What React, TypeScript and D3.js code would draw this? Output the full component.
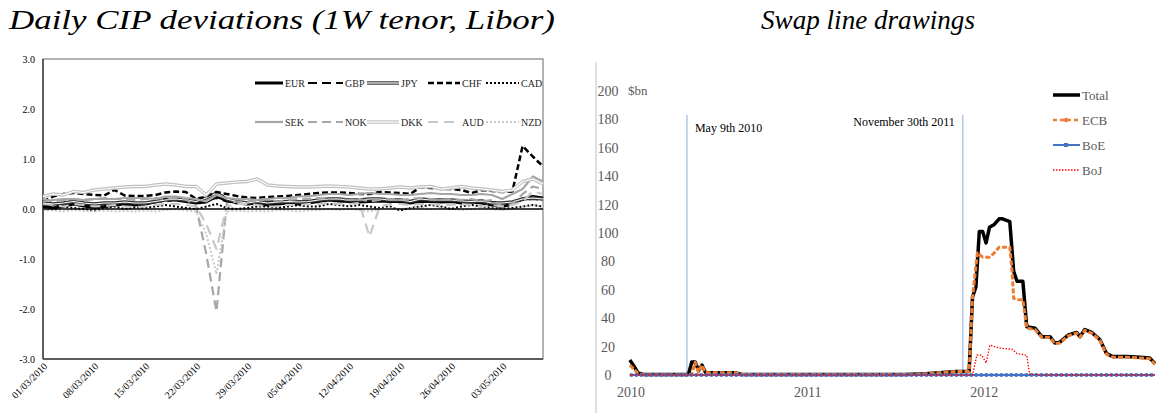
import * as d3 from 'd3';

// ---------- left panel: daily CIP deviations ----------
const cipDays = [
  '01/03/2010', '02/03/2010', '03/03/2010', '04/03/2010', '05/03/2010',
  '08/03/2010', '09/03/2010', '10/03/2010', '11/03/2010', '12/03/2010',
  '15/03/2010', '16/03/2010', '17/03/2010', '18/03/2010', '19/03/2010',
  '22/03/2010', '23/03/2010', '24/03/2010', '25/03/2010', '26/03/2010',
  '29/03/2010', '30/03/2010', '31/03/2010', '01/04/2010', '02/04/2010',
  '05/04/2010', '06/04/2010', '07/04/2010', '08/04/2010', '09/04/2010',
  '12/04/2010', '13/04/2010', '14/04/2010', '15/04/2010', '16/04/2010',
  '19/04/2010', '20/04/2010', '21/04/2010', '22/04/2010', '23/04/2010',
  '26/04/2010', '27/04/2010', '28/04/2010', '29/04/2010', '30/04/2010',
  '03/05/2010', '04/05/2010', '05/05/2010', '06/05/2010', '07/05/2010',
];
const cipTickLabels = [
  '01/03/2010', '08/03/2010', '15/03/2010', '22/03/2010', '29/03/2010',
  '05/04/2010', '12/04/2010', '19/04/2010', '26/04/2010', '03/05/2010',
];
const cipTicks = [3, 2, 1, 0, -1, -2, -3];

const eur = [0.05, 0.02, 0.06, 0.1, 0.06, 0.03, 0.05, 0.08, 0.1, 0.08, 0.1, 0.14, 0.2, 0.18, 0.15, 0.12, 0.14, 0.25, 0.18, 0.12, 0.1, 0.12, 0.08, 0.1, 0.12, 0.1, 0.12, 0.15, 0.18, 0.16, 0.15, 0.14, 0.15, 0.16, 0.15, 0.15, 0.12, 0.15, 0.15, 0.14, 0.15, 0.12, 0.14, 0.12, 0.08, 0.05, 0.1, 0.2, 0.25, 0.22];
const gbp = [0.1, 0.05, 0.12, 0.15, 0.1, 0.08, 0.1, 0.12, 0.1, 0.12, 0.12, 0.15, 0.15, 0.18, 0.16, 0.15, 0.18, 0.22, 0.15, 0.12, 0.12, 0.14, 0.15, 0.15, 0.16, 0.15, 0.15, 0.18, 0.2, 0.18, 0.18, 0.16, 0.18, 0.2, 0.18, 0.18, 0.15, 0.18, 0.18, 0.16, 0.15, 0.15, 0.14, 0.15, 0.14, 0.12, 0.15, 0.18, 0.2, 0.18];
const jpy = [0.12, 0.1, 0.12, 0.15, 0.12, 0.1, 0.12, 0.12, 0.14, 0.12, 0.12, 0.15, 0.18, 0.2, 0.18, 0.15, 0.22, 0.32, 0.2, 0.15, 0.12, 0.15, 0.12, 0.14, 0.15, 0.14, 0.15, 0.18, 0.2, 0.2, 0.18, 0.18, 0.2, 0.2, 0.18, 0.18, 0.15, 0.2, 0.18, 0.18, 0.18, 0.16, 0.15, 0.16, 0.12, 0.12, 0.14, 0.2, 0.22, 0.2];
const chf = [0.15, 0.25, 0.3, 0.32, 0.3, 0.28, 0.27, 0.38, 0.27, 0.26, 0.26, 0.28, 0.33, 0.35, 0.34, 0.2, 0.25, 0.34, 0.3, 0.26, 0.23, 0.22, 0.24, 0.25, 0.26, 0.28, 0.3, 0.32, 0.33, 0.33, 0.32, 0.3, 0.3, 0.34, 0.33, 0.32, 0.3, 0.44, 0.42, 0.4, 0.4, 0.38, 0.32, 0.38, 0.36, 0.34, 0.35, 1.26, 1.05, 0.85];
const cad = [0.0, -0.02, 0.05, 0.02, 0.0, -0.03, 0.02, 0.05, 0.0, 0.03, 0.02, 0.05, 0.08, 0.05, 0.02, 0.0, 0.05, 0.1, 0.02, 0.0, 0.02, 0.05, 0.05, 0.02, 0.05, 0.08, 0.05, 0.05, 0.1, 0.08, 0.05, 0.08, 0.05, 0.02, 0.05, -0.03, 0.02, 0.05, 0.08, 0.05, 0.0, 0.05, 0.08, 0.05, 0.02, 0.0, 0.02, 0.05, 0.08, 0.05];
const sek = [0.15, 0.18, 0.2, 0.2, 0.18, 0.2, 0.2, 0.2, 0.22, 0.22, 0.22, 0.2, 0.25, 0.25, 0.22, 0.2, 0.15, 0.28, 0.22, 0.2, 0.2, 0.18, 0.2, 0.22, 0.22, 0.25, 0.25, 0.28, 0.3, 0.3, 0.28, 0.3, 0.32, 0.3, 0.3, 0.28, 0.28, 0.3, 0.32, 0.3, 0.3, 0.28, 0.28, 0.3, 0.28, 0.2, 0.3, 0.4, 0.65, 0.55];
const nok = [0.2, 0.15, 0.18, 0.2, 0.18, 0.2, 0.22, 0.2, 0.2, 0.18, 0.2, 0.22, 0.2, 0.22, 0.2, 0.05, -0.9, -2.05, 0.1, 0.15, 0.15, 0.18, 0.2, 0.15, 0.18, 0.2, 0.2, 0.22, 0.2, 0.2, 0.18, 0.2, 0.15, 0.18, 0.2, 0.18, 0.2, 0.22, 0.2, 0.18, 0.2, 0.18, 0.2, 0.15, 0.18, 0.05, 0.1, 0.3, 0.45, 0.4];
const dkk = [0.25, 0.3, 0.28, 0.35, 0.33, 0.38, 0.4, 0.42, 0.44, 0.45, 0.45, 0.48, 0.5, 0.48, 0.45, 0.45, 0.28, 0.5, 0.52, 0.54, 0.55, 0.6, 0.48, 0.46, 0.45, 0.44, 0.44, 0.45, 0.46, 0.45, 0.44, 0.42, 0.4, 0.4, 0.42, 0.44, 0.42, 0.44, 0.45, 0.4, 0.42, 0.45, 0.42, 0.4, 0.38, 0.35, 0.38, 0.55, 0.6, 0.5];
const aud = [0.1, 0.08, 0.05, 0.1, 0.08, 0.05, 0.06, 0.08, 0.05, 0.04, 0.05, 0.08, 0.1, 0.1, 0.08, 0.05, -0.3, -0.8, 0.05, 0.1, 0.1, 0.08, 0.05, 0.05, 0.08, 0.08, 0.1, 0.1, 0.12, 0.1, 0.1, 0.12, -0.55, 0.05, 0.1, 0.1, 0.08, 0.1, 0.1, 0.08, 0.08, 0.1, 0.08, 0.05, 0.08, 0.05, 0.08, 0.15, 0.35, 0.3];
const nzd = [0.0, -0.03, -0.05, -0.02, -0.04, -0.05, -0.03, -0.05, -0.04, -0.05, -0.03, -0.05, -0.02, 0.0, -0.03, -0.05, -0.5, -1.3, -0.05, -0.03, -0.05, -0.04, -0.05, -0.02, -0.03, -0.05, -0.03, -0.02, 0.0, -0.02, 0.0, -0.02, -0.05, 0.0, 0.02, 0.0, 0.02, 0.03, 0.0, 0.02, 0.0, -0.02, 0.0, 0.02, 0.0, -0.02, 0.0, 0.05, 0.08, 0.05];

// ---------- right panel: swap line drawings ($bn) ----------
const totalDrawings: [string, number][] = [
  ['2010-01-11', 10.5], ['2010-01-20', 6], ['2010-01-28', 1.5], ['2010-02-10', 0.3],
  ['2010-05-12', 0.3], ['2010-05-19', 9.2], ['2010-05-26', 9.2], ['2010-06-02', 3],
  ['2010-06-09', 7], ['2010-06-16', 2], ['2010-06-23', 1.5], ['2010-08-18', 1.5],
  ['2010-09-01', 0.3], ['2011-08-03', 0.3], ['2011-09-14', 0.8], ['2011-10-12', 1.5],
  ['2011-11-16', 2.5], ['2011-12-13', 2.5], ['2011-12-20', 55], ['2011-12-27', 62],
  ['2012-01-03', 101], ['2012-01-10', 101], ['2012-01-17', 93], ['2012-01-24', 104],
  ['2012-02-03', 106], ['2012-02-13', 110], ['2012-02-20', 110], ['2012-03-06', 108],
  ['2012-03-14', 73], ['2012-03-21', 66], ['2012-04-02', 66], ['2012-04-10', 34],
  ['2012-04-27', 33], ['2012-05-11', 27], ['2012-05-28', 27], ['2012-06-07', 22.5],
  ['2012-06-17', 23], ['2012-07-04', 28], ['2012-07-22', 30], ['2012-07-29', 27],
  ['2012-08-08', 32], ['2012-08-22', 30], ['2012-09-08', 25], ['2012-09-22', 15],
  ['2012-10-05', 13], ['2012-11-03', 13], ['2012-11-30', 12.5], ['2012-12-20', 12],
  ['2012-12-31', 8],
];
const ecbDrawings: [string, number][] = [
  ['2010-01-11', 7], ['2010-01-20', 4], ['2010-01-28', 1], ['2010-02-10', 0.2],
  ['2010-05-12', 0.2], ['2010-05-19', 0.5], ['2010-05-26', 9], ['2010-06-02', 2],
  ['2010-06-09', 7], ['2010-06-16', 2], ['2010-06-23', 1.5], ['2010-08-18', 1.5],
  ['2010-09-01', 0.3], ['2011-08-03', 0.3], ['2011-09-14', 0.8], ['2011-10-12', 1.5],
  ['2011-11-16', 2.5], ['2011-12-13', 2.5], ['2011-12-20', 55], ['2011-12-30', 86],
  ['2012-01-10', 83], ['2012-01-24', 83], ['2012-02-03', 86], ['2012-02-13', 90],
  ['2012-03-06', 90], ['2012-03-11', 72], ['2012-03-14', 54], ['2012-03-21', 53],
  ['2012-04-02', 53], ['2012-04-10', 33], ['2012-04-27', 32], ['2012-05-11', 26.5],
  ['2012-05-28', 26.5], ['2012-06-07', 22], ['2012-06-17', 22.5], ['2012-07-04', 27.5],
  ['2012-07-22', 29.5], ['2012-07-29', 26.5], ['2012-08-08', 31.5], ['2012-08-22', 29.5],
  ['2012-09-08', 24.5], ['2012-09-22', 14.5], ['2012-10-05', 12.5], ['2012-11-03', 12.5],
  ['2012-11-30', 12], ['2012-12-20', 11.5], ['2012-12-31', 7.5],
];
const boeDrawings: [string, number][] = [['2010-01-11', 0], ['2012-12-31', 0]];
const bojDrawings: [string, number][] = [
  ['2010-01-11', 0], ['2011-12-20', 0], ['2011-12-29', 14], ['2012-01-08', 14],
  ['2012-01-17', 8.5], ['2012-01-25', 21], ['2012-02-13', 19], ['2012-03-12', 18],
  ['2012-03-21', 15], ['2012-04-10', 14], ['2012-04-16', 0.8], ['2012-05-01', 0.3],
  ['2012-05-15', 0], ['2012-12-31', 0],
];
const swapTicks = [0, 20, 40, 60, 80, 100, 120, 140, 160, 180, 200];
const swapYears = ['2010-01-01', '2011-01-01', '2012-01-01'];
const events: [string, string][] = [['2010-05-09', 'May 9th 2010'], ['2011-11-30', 'November 30th 2011']];

const serif = 'Liberation Serif';
const parse = d3.timeParse('%Y-%m-%d');

type Style = { color: string; width: number; dash?: string; double?: boolean };
const cipSeries: [string, number[], Style][] = [
  ['EUR', eur, { color: '#000', width: 3 }],
  ['GBP', gbp, { color: '#000', width: 2.2, dash: '9 5' }],
  ['JPY', jpy, { color: '#333', width: 3.4, double: true }],
  ['CHF', chf, { color: '#000', width: 2.5, dash: '6 3' }],
  ['CAD', cad, { color: '#000', width: 2, dash: '2 2' }],
  ['SEK', sek, { color: '#a6a6a6', width: 2.2 }],
  ['NOK', nok, { color: '#a6a6a6', width: 2.2, dash: '9 5' }],
  ['DKK', dkk, { color: '#c0c0c0', width: 3.4, double: true }],
  ['AUD', aud, { color: '#c8c8c8', width: 2.2, dash: '10 6' }],
  ['NZD', nzd, { color: '#c8c8c8', width: 2, dash: '2 2' }],
];
const legendCols = [[255, 283], [308, 343], [367, 399], [428, 460], [486, 519]];

function StyledPath({ d, s }: { d: string; s: Style }) {
  return (
    <g>
      <path d={d} fill="none" stroke={s.color} strokeWidth={s.width} strokeDasharray={s.dash} strokeLinejoin="round" />
      {s.double && <path d={d} fill="none" stroke="#fff" strokeWidth={1.2} strokeLinejoin="round" />}
    </g>
  );
}

function Title({ x, text, width }: { x: number; text: string; width: number }) {
  return (
    <text x={x} y={29} textAnchor="middle" style={{ fontFamily: serif, fontStyle: 'italic', fontSize: 28 }}
      textLength={width} lengthAdjust="spacingAndGlyphs">
      {text}
    </text>
  );
}

function CipChart() {
  const x = d3.scalePoint<string>().domain(cipDays).range([43, 543]);
  const y = d3.scaleLinear().domain([-3, 3]).range([359, 59]);
  const line = d3.line<number>().x((_, i) => x(cipDays[i]) as number).y((v) => y(v));
  return (
    <g>
      <Title x={282} text="Daily CIP deviations (1W tenor, Libor)" width={546} />
      <rect x={43} y={59} width={500} height={300} fill="none" stroke="#808080" strokeWidth={1.2} />
      <line x1={43} x2={43} y1={59} y2={359} stroke="#404040" strokeWidth={1.5} />
      <line x1={43} x2={543} y1={359} y2={359} stroke="#404040" strokeWidth={1.5} />
      {cipTicks.map((t) => (
        <text key={t} x={35} y={y(t) + 3.5} textAnchor="end" style={{ fontFamily: serif, fontSize: 10 }}>
          {t.toFixed(1)}
        </text>
      ))}
      {cipTickLabels.map((lab) => (
        <text key={lab} transform={`translate(${(x(lab) as number) + 5},${367}) rotate(-45)`} textAnchor="end"
          style={{ fontFamily: serif, fontSize: 10 }}>
          {lab}
        </text>
      ))}
      {cipSeries.map(([name, vals, s]) => (
        <StyledPath key={name} d={line(vals) as string} s={s} />
      ))}
      <line x1={43} x2={543} y1={y(0)} y2={y(0)} stroke="#000" strokeWidth={1.3} />
      {cipSeries.map(([name, , s], i) => {
        const [a, b] = legendCols[i % 5];
        const ly = i < 5 ? 83 : 122;
        return (
          <g key={name}>
            <StyledPath d={`M${a},${ly}L${b},${ly}`} s={s} />
            <text x={b + 2} y={ly + 3.5} style={{ fontFamily: serif, fontSize: 10 }} fill="#262626">
              {name}
            </text>
          </g>
        );
      })}
    </g>
  );
}

function SwapChart() {
  const x = d3.scaleTime().domain([parse('2010-01-01') as Date, parse('2012-12-31') as Date]).range([625, 1155]);
  const y = d3.scaleLinear().domain([0, 200]).range([375, 91]);
  const line = d3.line<[string, number]>().x((d) => x(parse(d[0]) as Date)).y((d) => y(d[1]));
  const legend: [string, string, number, string?][] = [
    ['Total', '#000', 3.5],
    ['ECB', '#ed7d31', 2.5, '4 3'],
    ['BoE', '#4472c4', 2],
    ['BoJ', '#ff0000', 1.3, '1.5 1.5'],
  ];
  return (
    <g>
      <Title x={868} text="Swap line drawings" width={214} />
      <line x1={596} x2={596} y1={62} y2={413} stroke="#bfbfbf" strokeWidth={1} />
      {swapTicks.map((t) => (
        <text key={t} x={608} y={y(t) + 5} textAnchor="middle" style={{ fontFamily: serif, fontSize: 14 }} fill="#595959">
          {t}
        </text>
      ))}
      <text x={628} y={95} style={{ fontFamily: serif, fontSize: 13 }} fill="#595959">$bn</text>
      {swapYears.map((yr) => (
        <text key={yr} x={x(parse(yr) as Date) + 6} y={397} textAnchor="middle" style={{ fontFamily: serif, fontSize: 14 }} fill="#595959">
          {yr.slice(0, 4)}
        </text>
      ))}
      {events.map(([d, lab], i) => {
        const ex = x(parse(d) as Date);
        return (
          <g key={d}>
            <line x1={ex} x2={ex} y1={115} y2={y(0)} stroke="#8eaadb" strokeWidth={1} />
            <text x={i === 0 ? ex + 8 : ex - 8} y={i === 0 ? 132 : 126} textAnchor={i === 0 ? 'start' : 'end'}
              style={{ fontFamily: serif, fontSize: 12 }}>
              {lab}
            </text>
          </g>
        );
      })}
      <path d={line(totalDrawings) as string} fill="none" stroke="#000" strokeWidth={3.5} strokeLinejoin="round" />
      <path d={line(ecbDrawings) as string} fill="none" stroke="#ed7d31" strokeWidth={3} strokeDasharray="5 2" strokeLinejoin="round" />
      <path d={line(boeDrawings) as string} fill="none" stroke="#4472c4" strokeWidth={2} />
      <path d={line(boeDrawings) as string} fill="none" stroke="#4472c4" strokeWidth={4} strokeDasharray="3 2" opacity={0.8} />
      <path d={line(bojDrawings) as string} fill="none" stroke="#ff0000" strokeWidth={1.3} strokeDasharray="1.5 1.5" />
      {legend.map(([name, c, w, dash], i) => {
        const ly = 95 + i * 25;
        return (
          <g key={name}>
            <line x1={1053} x2={1080} y1={ly} y2={ly} stroke={c} strokeWidth={w} strokeDasharray={dash} />
            {name === 'ECB' && <circle cx={1066} cy={ly} r={2.2} fill={c} />}
            {name === 'BoE' && <rect x={1064} y={ly - 2} width={4} height={4} fill={c} />}
            <text x={1082} y={ly + 4.5} style={{ fontFamily: serif, fontSize: 13 }} fill="#595959">
              {name}
            </text>
          </g>
        );
      })}
    </g>
  );
}

export default function App() {
  return (
    <svg width={1156} height={413} style={{ position: 'absolute', left: 0, top: 0, background: '#fff' }}>
      <rect width={1156} height={413} fill="#fff" />
      <CipChart />
      <SwapChart />
    </svg>
  );
}
